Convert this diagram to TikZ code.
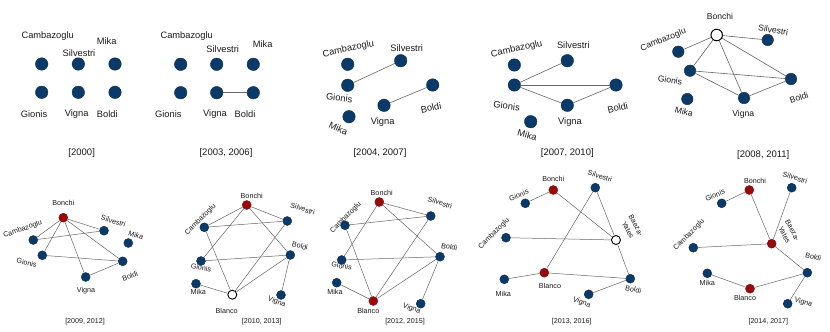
\documentclass[tikz,border=0pt]{standalone}
\usepackage{fontspec}
\setmainfont{Liberation Sans}
\definecolor{nblue}{HTML}{0B3A68}
\definecolor{nred}{HTML}{990A0A}
\definecolor{txt}{HTML}{1A1A1A}
\definecolor{edg}{HTML}{666666}
\begin{document}
\begin{tikzpicture}[x=1pt,y=-1pt,
  tb/.style={circle,fill=nblue,draw=nblue!80!black,line width=0.4pt,inner sep=0pt,minimum size=12.5pt},
  mb/.style={tb,minimum size=11.5pt},
  mw/.style={circle,fill=white,draw=black,line width=1pt,inner sep=0pt,minimum size=11.5pt},
  sb/.style={tb,minimum size=9pt},
  sr/.style={circle,fill=nred,draw=nred!80!black,line width=0.4pt,inner sep=0pt,minimum size=9pt},
  sw/.style={circle,fill=white,draw=black,line width=0.9pt,inner sep=0pt,minimum size=9pt},
  labT/.style={font=\fontsize{9.3}{10}\selectfont,text=txt,inner sep=0pt},
  labM/.style={font=\fontsize{8.6}{9}\selectfont,text=txt,inner sep=0pt},
  labS/.style={font=\fontsize{7.2}{8.6}\selectfont,text=txt,inner sep=0pt},
  titT/.style={font=\fontsize{9.5}{10}\selectfont,text=txt,inner sep=0pt},
  titS/.style={font=\fontsize{7.1}{8}\selectfont,text=txt,inner sep=0pt},
  ed/.style={draw=edg,line width=0.6pt},
  eds/.style={draw=edg,line width=0.5pt}]
\useasboundingbox[fill=white] (0,0) rectangle (830,332);

% ---------- Panel 1 [2000]
\node[tb] (p1c) at (41.7,64) {};
\node[tb] (p1s) at (78.3,64) {};
\node[tb] (p1m) at (115,64) {};
\node[tb] (p1g) at (41.7,92.3) {};
\node[tb] (p1v) at (78.3,92.3) {};
\node[tb] (p1b) at (115,92.3) {};
\node[labT] (p1lc) at (47.7,36) {Cambazoglu};
\node[labT] (p1lm) at (106.7,40.7) {Mika};
\node[labT] (p1ls) at (79,52.7) {Silvestri};
\node[labT] (p1lg) at (34,114) {Gionis};
\node[labT] (p1lv) at (76.7,114) {Vigna};
\node[labT] (p1lb) at (107.3,114) {Boldi};
\node[titT] (p1t) at (81.7,153.3) {[2000]};

% ---------- Panel 2 [2003, 2006]
\node[tb] (p2c) at (180.7,64.3) {};
\node[tb] (p2s) at (216.7,64.3) {};
\node[tb] (p2m) at (253.3,64.3) {};
\node[tb] (p2g) at (180.7,92.7) {};
\node[tb] (p2v) at (216.7,92.7) {};
\node[tb] (p2b) at (253.3,92.7) {};
\draw[ed] (p2v) -- (p2b);
\node[labT] (p2lc) at (186.7,36) {Cambazoglu};
\node[labT] (p2ls) at (222.7,49) {Silvestri};
\node[labT] (p2lm) at (262.7,44) {Mika};
\node[labT] (p2lg) at (168.3,114) {Gionis};
\node[labT] (p2lv) at (215,114) {Vigna};
\node[labT] (p2lb) at (245,114) {Boldi};
\node[titT] (p2t) at (226,153.3) {[2003, 2006]};

% ---------- Panel 3 [2004, 2007]
\node[tb] (p3c) at (347.7,64.3) {};
\node[tb] (p3s) at (400.7,60.7) {};
\node[tb] (p3g) at (347.7,85.3) {};
\node[tb] (p3b) at (432.7,85) {};
\node[tb] (p3v) at (384,105.3) {};
\node[tb] (p3m) at (349,116.7) {};
\draw[ed] (p3g) -- (p3s);
\draw[ed] (p3v) -- (p3b);
\node[labT,rotate=12] (p3lc) at (348.3,49.3) {Cambazoglu};
\node[labT] (p3ls) at (406.7,48.3) {Silvestri};
\node[labT,rotate=-7] (p3lg) at (339.3,97.7) {Gionis};
\node[labT,rotate=12] (p3lb) at (431,107.7) {Boldi};
\node[labT] (p3lv) at (382.7,121.7) {Vigna};
\node[labT,rotate=-25] (p3lm) at (338.3,128.3) {Mika};
\node[titT] (p3t) at (380,153.3) {[2004, 2007]};

% ---------- Panel 4 [2007, 2010]
\node[tb] (p4c) at (514.3,65) {};
\node[tb] (p4s) at (567.3,60.7) {};
\node[tb] (p4g) at (514.3,85) {};
\node[tb] (p4b) at (616,85) {};
\node[tb] (p4v) at (567.3,105.3) {};
\node[tb] (p4m) at (530.7,121.7) {};
\draw[ed] (p4g) -- (p4s);
\draw[ed] (p4g) -- (p4b);
\draw[ed] (p4g) -- (p4v);
\draw[ed] (p4v) -- (p4b);
\node[labT,rotate=12] (p4lc) at (516.7,49.3) {Cambazoglu};
\node[labT] (p4ls) at (573.3,45) {Silvestri};
\node[labT,rotate=-7] (p4lg) at (506.7,106) {Gionis};
\node[labT,rotate=12] (p4lb) at (617.7,107.7) {Boldi};
\node[labT] (p4lv) at (570,121.7) {Vigna};
\node[labT,rotate=-15] (p4lm) at (527.3,135) {Mika};
\node[titT] (p4t) at (567.3,153.3) {[2007, 2010]};

% ---------- Panel 5 [2008, 2011]
\node[mb] (p5s) at (767.7,40) {};
\node[mb] (p5c) at (678.3,51.7) {};
\node[mb] (p5g) at (690,70.7) {};
\node[mb] (p5b) at (791,79) {};
\node[mb] (p5v) at (744,98) {};
\node[mb] (p5m) at (687.3,99) {};
\node[mw] (p5o) at (716.7,35) {};
\draw[ed] (p5o) -- (p5c);
\draw[ed] (p5o) -- (p5s);
\draw[ed] (p5o) -- (p5g);
\draw[ed] (p5o) -- (p5v);
\draw[ed] (p5o) -- (p5b);
\draw[ed] (p5g) -- (p5b);
\draw[ed] (p5g) -- (p5v);
\draw[ed] (p5v) -- (p5b);
\node[labM] (p5lo) at (720,16.7) {Bonchi};
\node[labM,rotate=-10] (p5ls) at (773.3,30) {Silvestri};
\node[labM,rotate=22] (p5lc) at (663.3,40) {Cambazoglu};
\node[labM,rotate=-8] (p5lg) at (670,80) {Gionis};
\node[labM,rotate=18] (p5lb) at (799,97.7) {Boldi};
\node[labM] (p5lv) at (743.3,114) {Vigna};
\node[labM,rotate=-15] (p5lm) at (684,111.7) {Mika};
\node[titT] (p5t) at (763.3,155) {[2008, 2011]};

% ---------- Panel 6 [2009, 2012]
\node[sr] (p6o) at (63.3,217.7) {};
\node[sb] (p6s) at (104,230.7) {};
\node[sb] (p6c) at (33.3,240) {};
\node[sb] (p6m) at (128.3,243) {};
\node[sb] (p6g) at (42.3,255.3) {};
\node[sb] (p6b) at (122.7,261.3) {};
\node[sb] (p6v) at (85.7,277) {};
\draw[eds] (p6o) -- (p6c);
\draw[eds] (p6o) -- (p6s);
\draw[eds] (p6o) -- (p6g);
\draw[eds] (p6o) -- (p6v);
\draw[eds] (p6o) -- (p6b);
\draw[eds] (p6c) -- (p6s);
\draw[eds] (p6g) -- (p6b);
\draw[eds] (p6v) -- (p6b);
\node[labS] (p6lo) at (63.3,202.7) {Bonchi};
\node[labS,rotate=-17] (p6ls) at (113.3,221) {Silvestri};
\node[labS,rotate=20] (p6lc) at (22.7,229.3) {Cambazoglu};
\node[labS,rotate=-18] (p6lm) at (136,235.3) {Mika};
\node[labS,rotate=-14] (p6lg) at (26.7,262.7) {Gionis};
\node[labS,rotate=20] (p6lb) at (130,276) {Boldi};
\node[labS] (p6lv) at (86,290.3) {Vigna};
\node[titS] (p6t) at (85,321.3) {[2009, 2012]};

% ---------- Panel 7 [2010, 2013]
\node[sr] (p7o) at (246.7,205) {};
\node[sb] (p7s) at (287.3,221) {};
\node[sb] (p7c) at (204.3,227.3) {};
\node[sb] (p7b) at (290.3,255) {};
\node[sb] (p7g) at (201,261) {};
\node[sb] (p7m) at (196,283.7) {};
\node[sw] (p7w) at (232.3,294.7) {};
\node[sb] (p7v) at (281,295) {};
\draw[eds] (p7o) -- (p7c);
\draw[eds] (p7o) -- (p7s);
\draw[eds] (p7o) -- (p7b);
\draw[eds] (p7o) -- (p7g);
\draw[eds] (p7c) -- (p7s);
\draw[eds] (p7c) -- (p7w);
\draw[eds] (p7g) -- (p7b);
\draw[eds] (p7s) -- (p7w);
\draw[eds] (p7b) -- (p7w);
\draw[eds] (p7b) -- (p7v);
\draw[eds] (p7m) -- (p7w);
\node[labS] (p7lo) at (251.7,196) {Bonchi};
\node[labS,rotate=-19] (p7ls) at (302.7,208.7) {Silvestri};
\node[labS,rotate=45] (p7lc) at (200.5,219.5) {Cambazoglu};
\node[labS,rotate=-12] (p7lb) at (300,246) {Boldi};
\node[labS,rotate=-10] (p7lg) at (201,267.7) {Gionis};
\node[labS] (p7lm) at (198.3,291.7) {Mika};
\node[labS] (p7lw) at (226.7,311.3) {Blanco};
\node[labS,rotate=-20] (p7lv) at (276.7,302) {Vigna};
\node[titS] (p7t) at (261.7,321.3) {[2010, 2013]};

% ---------- Panel 8 [2012, 2015]
\node[sr] (p8o) at (379.3,202) {};
\node[sb] (p8s) at (430.7,216) {};
\node[sb] (p8c) at (345,225.3) {};
\node[sb] (p8g) at (341.7,260) {};
\node[sb] (p8b) at (440,256.7) {};
\node[sb] (p8m) at (336.7,282.7) {};
\node[sr] (p8w) at (373.3,301) {};
\node[sb] (p8v) at (420.7,303.7) {};
\draw[eds] (p8o) -- (p8s);
\draw[eds] (p8o) -- (p8b);
\draw[eds] (p8o) -- (p8g);
\draw[eds] (p8c) -- (p8s);
\draw[eds] (p8c) -- (p8w);
\draw[eds] (p8g) -- (p8b);
\draw[eds] (p8s) -- (p8w);
\draw[eds] (p8b) -- (p8w);
\draw[eds] (p8b) -- (p8v);
\draw[eds] (p8m) -- (p8w);
\node[labS] (p8lo) at (381.7,192.7) {Bonchi};
\node[labS,rotate=-18] (p8ls) at (440,202.7) {Silvestri};
\node[labS,rotate=45] (p8lc) at (345.8,217.5) {Cambazoglu};
\node[labS,rotate=-10] (p8lg) at (341.7,266) {Gionis};
\node[labS,rotate=-11] (p8lb) at (449.3,247) {Boldi};
\node[labS] (p8lm) at (335,291.7) {Mika};
\node[labS] (p8lw) at (368.3,311.3) {Blanco};
\node[labS,rotate=-19] (p8lv) at (411.7,308.7) {Vigna};
\node[titS] (p8t) at (405,321.3) {[2012, 2015]};

% ---------- Panel 9 [2013, 2016]
\node[sr] (p9o) at (553.3,190) {};
\node[sb] (p9s) at (595.3,187.7) {};
\node[sb] (p9g) at (525.3,203.3) {};
\node[sb] (p9c) at (506,237.7) {};
\node[sw] (p9y) at (616,240) {};
\node[sb] (p9m) at (504.3,279.3) {};
\node[sr] (p9w) at (544.3,272.7) {};
\node[sb] (p9b) at (630.3,278.7) {};
\node[sb] (p9v) at (588.7,294.3) {};
\draw[eds] (p9g) -- (p9o);
\draw[eds] (p9o) -- (p9y);
\draw[eds] (p9s) -- (p9y);
\draw[eds] (p9s) -- (p9w);
\draw[eds] (p9c) -- (p9y);
\draw[eds] (p9y) -- (p9b);
\draw[eds] (p9m) -- (p9w);
\draw[eds] (p9w) -- (p9b);
\draw[eds] (p9v) -- (p9b);
\node[labS] (p9lo) at (553.3,178.7) {Bonchi};
\node[labS,rotate=-18] (p9ls) at (600,176) {Silvestri};
\node[labS,rotate=22] (p9lg) at (518.8,195) {Gionis};
\node[labS,rotate=45] (p9lc) at (494,233.5) {Cambazoglu};
\node[labS,rotate=-62] (p9ly1) at (636,225.5) {Baeza-};
\node[labS,rotate=-62] (p9ly2) at (628,229.8) {Yates};
\node[labS] (p9lm) at (503.3,294.3) {Mika};
\node[labS] (p9lw) at (550,286) {Blanco};
\node[labS,rotate=-12] (p9lb) at (633.3,289.3) {Boldi};
\node[labS,rotate=-20] (p9lv) at (581.7,302.7) {Vigna};
\node[titS] (p9t) at (571.7,321.3) {[2013, 2016]};

% ---------- Panel 10 [2014, 2017]
\node[sr] (p10o) at (749.3,190) {};
\node[sb] (p10s) at (791.7,187.7) {};
\node[sb] (p10g) at (721.7,203.3) {};
\node[sr] (p10y) at (771.7,243.7) {};
\node[sb] (p10c) at (693.3,247.7) {};
\node[sb] (p10m) at (707.3,273.3) {};
\node[sb] (p10b) at (807.3,272.7) {};
\node[sr] (p10w) at (750,288.7) {};
\node[sb] (p10v) at (787.7,303.7) {};
\draw[eds] (p10g) -- (p10o);
\draw[eds] (p10o) -- (p10y);
\draw[eds] (p10s) -- (p10y);
\draw[eds] (p10c) -- (p10y);
\draw[eds] (p10y) -- (p10b);
\draw[eds] (p10m) -- (p10w);
\draw[eds] (p10w) -- (p10b);
\draw[eds] (p10b) -- (p10v);
\node[labS] (p10lo) at (755,181) {Bonchi};
\node[labS,rotate=-17] (p10ls) at (795,177.7) {Silvestri};
\node[labS,rotate=22] (p10lg) at (715,195) {Gionis};
\node[labS,rotate=45] (p10lc) at (689,235) {Cambazoglu};
\node[labS,rotate=-62] (p10ly1) at (792.5,230.5) {Baeza-};
\node[labS,rotate=-62] (p10ly2) at (784.5,234.8) {Yates};
\node[labS,rotate=-15] (p10lb) at (813.3,256.7) {Boldi};
\node[labS] (p10lm) at (707.3,282.7) {Mika};
\node[labS] (p10lw) at (745,298.3) {Blanco};
\node[labS,rotate=-17] (p10lv) at (803.3,302.7) {Vigna};
\node[titS] (p10t) at (768.3,321.3) {[2014, 2017]};
\end{tikzpicture}
\end{document}
